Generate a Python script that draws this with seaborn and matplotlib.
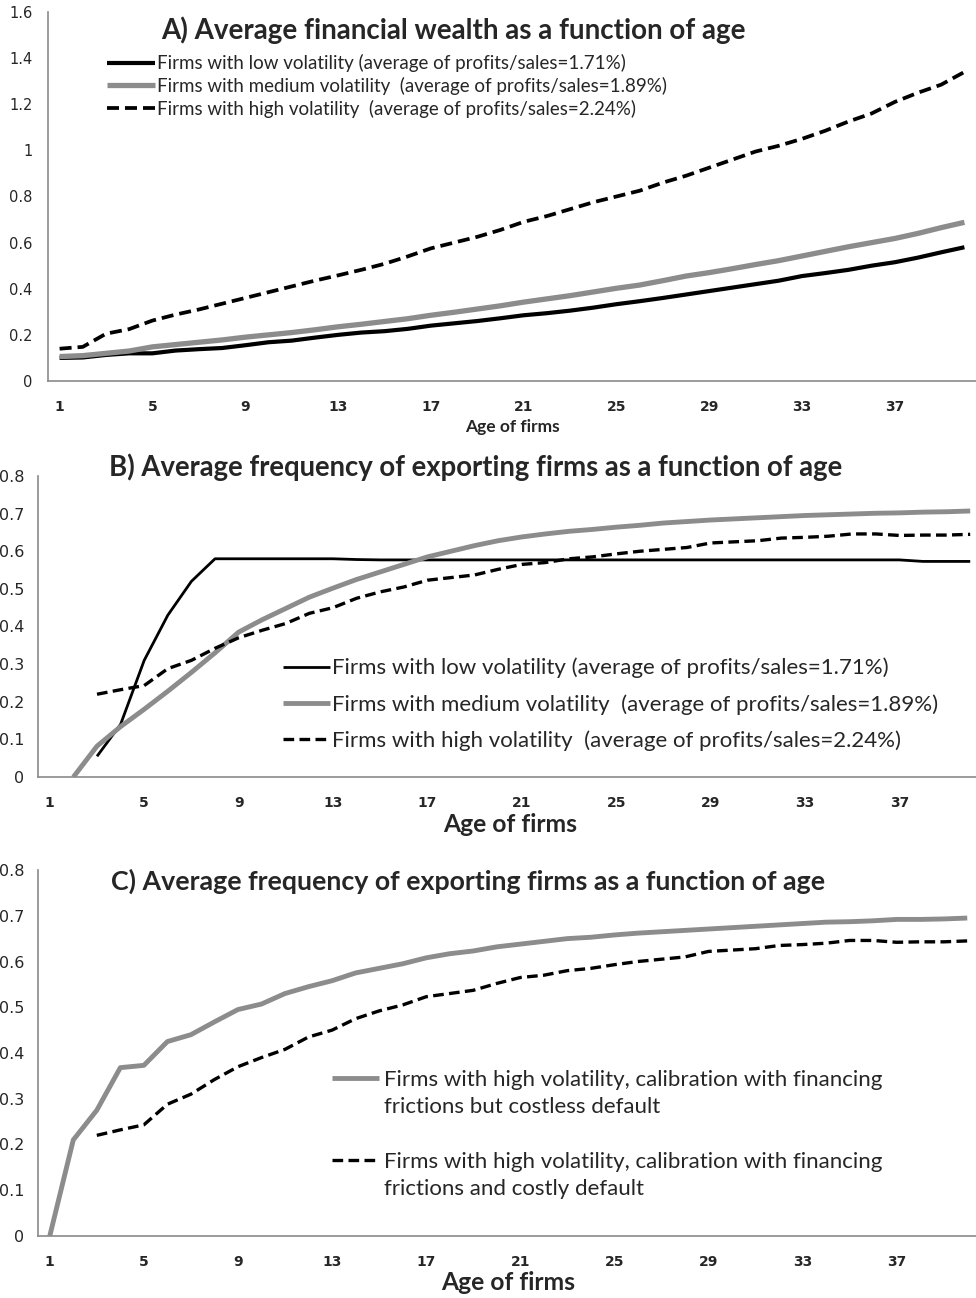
import matplotlib.pyplot as plt
import pandas as pd
import seaborn as sns
from matplotlib.lines import Line2D

# ages 1..40 on a category axis
AGES = list(range(1, 41))

# A) average financial wealth
A_LOW = [0.100, 0.102, 0.113, 0.120, 0.120, 0.132, 0.138, 0.143, 0.155, 0.168,
         0.175, 0.188, 0.200, 0.210, 0.216, 0.226, 0.240, 0.250, 0.260, 0.272,
         0.285, 0.294, 0.305, 0.318, 0.333, 0.346, 0.360, 0.375, 0.390, 0.405,
         0.420, 0.435, 0.455, 0.468, 0.482, 0.500, 0.515, 0.535, 0.558, 0.580]
A_MED = [0.106, 0.110, 0.120, 0.130, 0.148, 0.158, 0.168, 0.178, 0.190, 0.200,
         0.210, 0.222, 0.235, 0.246, 0.258, 0.270, 0.285, 0.298, 0.312, 0.326,
         0.342, 0.356, 0.370, 0.386, 0.402, 0.416, 0.435, 0.455, 0.470, 0.487,
         0.505, 0.522, 0.542, 0.562, 0.582, 0.600, 0.618, 0.640, 0.665, 0.688]
A_HIGH = [0.140, 0.148, 0.205, 0.225, 0.262, 0.288, 0.310, 0.335, 0.360, 0.385,
          0.410, 0.435, 0.458, 0.482, 0.508, 0.540, 0.575, 0.600, 0.625, 0.655,
          0.690, 0.715, 0.745, 0.775, 0.800, 0.825, 0.860, 0.890, 0.925, 0.960,
          0.995, 1.020, 1.050, 1.085, 1.125, 1.160, 1.210, 1.250, 1.285, 1.340]

# B) average frequency of exporting firms
B_LOW_AGES = list(range(3, 41))
B_LOW = [0.055, 0.140, 0.310, 0.430, 0.520, 0.580, 0.580, 0.580, 0.580, 0.580,
         0.580, 0.578, 0.577, 0.577, 0.577, 0.577, 0.577, 0.577, 0.577, 0.577,
         0.577, 0.577, 0.577, 0.577, 0.577, 0.577, 0.577, 0.577, 0.577, 0.577,
         0.577, 0.577, 0.577, 0.577, 0.577, 0.573, 0.573, 0.573]
B_MED_AGES = list(range(2, 41))
B_MED = [0.000, 0.082, 0.134, 0.180, 0.228, 0.278, 0.330, 0.385, 0.418, 0.448,
         0.478, 0.502, 0.525, 0.545, 0.565, 0.585, 0.600, 0.615, 0.628, 0.638,
         0.646, 0.653, 0.658, 0.664, 0.669, 0.675, 0.679, 0.683, 0.686, 0.689,
         0.692, 0.695, 0.697, 0.699, 0.701, 0.702, 0.704, 0.705, 0.707]

# high volatility, costly default (same series in B and C)
HIGH_AGES = list(range(3, 41))
HIGH_EXPORT = [0.220, 0.232, 0.243, 0.288, 0.310, 0.342, 0.370, 0.390, 0.408, 0.435,
               0.450, 0.475, 0.492, 0.505, 0.523, 0.530, 0.537, 0.552, 0.565, 0.570,
               0.580, 0.585, 0.593, 0.600, 0.605, 0.610, 0.622, 0.625, 0.628, 0.635,
               0.637, 0.640, 0.646, 0.646, 0.642, 0.643, 0.643, 0.645]

# C) high volatility, costless default
C_COSTLESS = [0.000, 0.210, 0.275, 0.368, 0.373, 0.425, 0.440, 0.468, 0.495, 0.507,
              0.530, 0.545, 0.558, 0.575, 0.585, 0.595, 0.608, 0.617, 0.623, 0.632,
              0.638, 0.644, 0.650, 0.653, 0.658, 0.662, 0.665, 0.668, 0.671, 0.674,
              0.677, 0.680, 0.683, 0.686, 0.687, 0.689, 0.692, 0.692, 0.693, 0.695]

LBL_LOW = "Firms with low volatility (average of profits/sales=1.71%)"
LBL_MED = "Firms with medium volatility  (average of profits/sales=1.89%)"
LBL_HIGH = "Firms with high volatility  (average of profits/sales=2.24%)"
LBL_COSTLESS = ["Firms with high volatility, calibration with financing",
                "frictions but costless default"]
LBL_COSTLY = ["Firms with high volatility, calibration with financing",
              "frictions and costly default"]

TICK_AGES = list(range(1, 41, 4))
GRAY = "#8c8c8c"
AXIS = "#8a8a8a"
DASH = (3.2, 1.6)
TICK_FONT = "DejaVu Sans"

sns.set_style("white")
plt.rcParams["font.family"] = ["Lato", "DejaVu Sans"]


def style_axis(ax, ymax, ystep, every, yfs, xfs, ticklen):
    ax.set_xlim(0.5, 40.5)
    ax.set_ylim(0, ymax)
    n = int(round(ymax / ystep))
    yt = [round(i * ystep, 2) for i in range(n + 1)]
    ax.set_yticks(yt)
    ax.set_yticklabels([f"{v:g}" for v in yt], fontsize=yfs, fontfamily=TICK_FONT)
    # labels at category centres, tick marks at category boundaries
    ax.set_xticks(TICK_AGES)
    ax.set_xticklabels([str(a) for a in TICK_AGES], fontsize=xfs, fontweight="bold",
                       fontfamily=TICK_FONT)
    ax.set_xticks([b + 0.5 for b in range(0, 41, every)], minor=True)
    ax.tick_params(axis="x", which="major", length=0, pad=14)
    ax.tick_params(axis="x", which="minor", length=ticklen, width=1, color=AXIS,
                   direction="out")
    ax.tick_params(axis="y", length=ticklen, width=1, color=AXIS, direction="out", pad=6)
    for s in ["top", "right"]:
        ax.spines[s].set_visible(False)
    for s in ["left", "bottom"]:
        ax.spines[s].set_color(AXIS)
        ax.spines[s].set_linewidth(1.2)
    ax.set_ylabel("")


def draw(ax, x, y, label, color, lw, dashed=False):
    df = pd.DataFrame({"age": x, "val": y})
    sns.lineplot(data=df, x="age", y="val", ax=ax, color=color,
                 linewidth=lw, label=label)
    ln = ax.lines[-1]
    ln.set_solid_capstyle("butt")
    if dashed:
        ln.set_dashes(DASH)
        ln.set_dash_capstyle("butt")
    return ln


fig = plt.figure(figsize=(9.76, 12.98), dpi=100)
H = 1298.0
W = 976.0

# ---- panel A ----
axA = fig.add_axes([48 / W, (H - 381) / H, 928 / W, 369 / H])
draw(axA, AGES, A_LOW, LBL_LOW, "black", 3.0)
draw(axA, AGES, A_MED, LBL_MED, GRAY, 3.8)
draw(axA, AGES, A_HIGH, LBL_HIGH, "black", 2.7, dashed=True)
style_axis(axA, 1.6, 0.2, 5, 10.5, 10, 5)
axA.set_xlabel("Age of firms", fontsize=12.5, fontweight="bold", labelpad=3)
axA.legend(loc="upper left", bbox_to_anchor=(0.0636, 0.886), frameon=False,
           fontsize=13.5, handlelength=2.55, handletextpad=0.1, labelspacing=0.25,
           borderpad=0, borderaxespad=0)
fig.text(453 / W, 1 - 30 / H, "A) Average financial wealth as a function of age",
         ha="center", va="center", fontsize=20, fontweight="bold")

# ---- panel B ----
axB = fig.add_axes([38 / W, (H - 777) / H, 944 / W, 301 / H])
draw(axB, B_LOW_AGES, B_LOW, LBL_LOW, "black", 2.0)
draw(axB, B_MED_AGES, B_MED, LBL_MED, GRAY, 3.5)
draw(axB, HIGH_AGES, HIGH_EXPORT, LBL_HIGH, "black", 2.4, dashed=True)
style_axis(axB, 0.8, 0.1, 1, 11.5, 10, 4)
axB.set_xlabel("Age of firms", fontsize=17.7, fontweight="bold", labelpad=2)
axB.legend(loc="upper left", bbox_to_anchor=(0.2595, 0.396), frameon=False,
           fontsize=16, handlelength=2.1, handletextpad=0.1, labelspacing=0.71,
           borderpad=0, borderaxespad=0)
fig.text(476 / W, 1 - 467 / H, "B) Average frequency of exporting firms as a function of age",
         ha="center", va="center", fontsize=19.8, fontweight="bold")

# ---- panel C ----
axC = fig.add_axes([38 / W, (H - 1236) / H, 941 / W, 366 / H])
gray_ln = draw(axC, AGES, C_COSTLESS, LBL_COSTLESS[0], GRAY, 3.5)
dash_ln = draw(axC, HIGH_AGES, HIGH_EXPORT, LBL_COSTLY[0], "black", 2.4, dashed=True)
style_axis(axC, 0.8, 0.1, 1, 11.5, 10, 4)
axC.set_xlabel("Age of firms", fontsize=17.7, fontweight="bold", labelpad=1)
# handle sits on the first line of each two-line label, with a gap between entries
blank = Line2D([], [], color="none")
axC.legend([gray_ln, blank, blank, dash_ln, blank],
           [LBL_COSTLESS[0], LBL_COSTLESS[1], " ", LBL_COSTLY[0], LBL_COSTLY[1]],
           loc="upper left", bbox_to_anchor=(0.3124, 0.454), frameon=False,
           fontsize=16, handlelength=2.1, handletextpad=0.25, labelspacing=0.33,
           borderpad=0, borderaxespad=0)
fig.text(468 / W, 1 - 881 / H, "C) Average frequency of exporting firms as a function of age",
         ha="center", va="center", fontsize=19.3, fontweight="bold")

fig.savefig("out.png", dpi=100)
